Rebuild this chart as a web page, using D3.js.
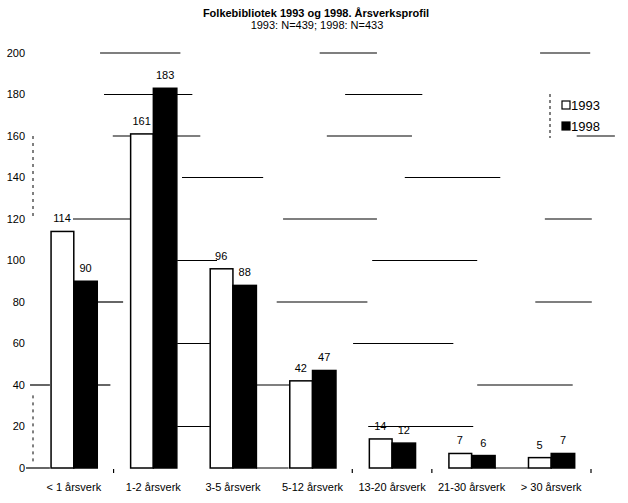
<!DOCTYPE html>
<html>
<head>
<meta charset="utf-8">
<script src="https://cdn.jsdelivr.net/npm/d3@7"></script>
<style>
  body { margin: 0; background: #fff; }
  text { font-family: "Liberation Sans", Arial, sans-serif; fill: #000; }
</style>
</head>
<body>
<div id="chart"></div>
<script>
// Folkebibliotek 1993 og 1998 - årsverksprofil, grouped bars

const categories = ["< 1 årsverk", "1-2 årsverk", "3-5 årsverk", "5-12 årsverk",
                    "13-20 årsverk", "21-30 årsverk", "> 30 årsverk"];
const years = ["1993", "1998"];
const values1993 = [114, 161, 96, 42, 14, 7, 5];
const values1998 = [90, 183, 88, 47, 12, 6, 7];
const yTicks = [0, 20, 40, 60, 80, 100, 120, 140, 160, 180, 200];

// broken scanned gridlines: [level, from, to] with from/to in category units
const gridPieces = [
  [200, 0.83, 1.84], [200, 3.59, 4.31], [200, 6.36, 6.99],
  [180, 0.88, 1.99], [180, 3.91, 4.88],
  [160, 0.99, 2.09], [160, 3.68, 4.75], [160, 6.82, 7.30],
  [140, 1.86, 2.88], [140, 4.66, 5.86],
  [120, 0.49, 1.21], [120, 3.13, 4.31], [120, 6.42, 7.01],
  [100, 1.80, 2.30], [100, 4.25, 5.57],
  [80, 0.79, 1.12], [80, 3.05, 4.19], [80, 6.30, 7.01],
  [60, 1.80, 2.21], [60, 4.01, 5.27],
  [40, -0.05, 0.20], [40, 0.79, 0.96], [40, 2.80, 3.22], [40, 5.57, 6.77],
  [20, 1.80, 2.21], [20, 4.20, 5.52],
  [0, -0.10, 0.20], [0, 2.79, 3.20], [0, 5.79, 6.21]
];
const tickIdx = [1, 4, 5, 7];

const width = 628, height = 503;
const margin = ({top: 53, right: 37, bottom: 34, left: 34});

const data = categories.map((c, i) => ({cat: c, v: [values1993[i], values1998[i]]}));

const svg = d3.select("#chart").append("svg")
    .attr("width", width).attr("height", height);

const x = d3.scaleBand()
    .domain(categories)
    .range([margin.left, width - margin.right])
    .paddingInner(0.41)
    .paddingOuter(0.205);
const xSub = d3.scaleBand().domain(years).range([0, x.bandwidth()]);
const xu = d3.scaleLinear().domain([0, categories.length])
    .range([margin.left, width - margin.right]);
const y = d3.scaleLinear().domain([0, 200])
    .range([height - margin.bottom - 1, margin.top]);

// title
svg.append("text").attr("x", 316).attr("y", 17)
    .style("text-anchor", "middle").style("font-weight", "bold").style("font-size", "11px")
    .text("Folkebibliotek 1993 og 1998. Årsverksprofil");
svg.append("text").attr("x", 317).attr("y", 29)
    .style("text-anchor", "middle").style("font-size", "11px")
    .text("1993: N=439; 1998: N=433");

// gridline pieces
svg.append("g").selectAll("line").data(gridPieces).enter().append("line")
    .attr("x1", d => xu(d[1])).attr("x2", d => xu(d[2]))
    .attr("y1", d => y(d[0])).attr("y2", d => y(d[0]))
    .attr("stroke", "#000").attr("stroke-width", 1.2);

// left axis remains (dotted)
svg.append("g").selectAll("line").data([[160, 120], [35, 3]]).enter().append("line")
    .attr("x1", margin.left - 1).attr("x2", margin.left - 1)
    .attr("y1", d => y(d[0])).attr("y2", d => y(d[1]))
    .attr("stroke", "#000").attr("stroke-dasharray", "3,4");

// y tick labels
svg.append("g").selectAll("text").data(yTicks).enter().append("text")
    .attr("x", 25).attr("y", d => y(d)).attr("dy", "0.35em")
    .style("text-anchor", "end").style("font-size", "11px")
    .text(d => d);

// small ticks under baseline
svg.append("g").selectAll("line").data(tickIdx).enter().append("line")
    .attr("x1", d => xu(d)).attr("x2", d => xu(d))
    .attr("y1", y(0) + 1).attr("y2", y(0) + 5)
    .attr("stroke", "#000").attr("stroke-width", 1.2);

// bars
const groups = svg.append("g").selectAll("g").data(data).enter().append("g")
    .attr("transform", d => `translate(${x(d.cat)},0)`);
groups.selectAll("rect").data(d => d.v.map((v, j) => ({yr: years[j], v: v}))).enter()
    .append("rect")
    .attr("x", d => xSub(d.yr) + (d.yr === "1993" ? 0.75 : 0))
    .attr("y", d => y(d.v))
    .attr("width", d => xSub.bandwidth() - (d.yr === "1993" ? 0.75 : 0))
    .attr("height", d => y(0) - y(d.v))
    .attr("fill", d => d.yr === "1993" ? "#fff" : "#000")
    .attr("stroke", "#000").attr("stroke-width", 1.5);

// value labels
groups.selectAll("text").data(d => d.v.map((v, j) => ({yr: years[j], v: v}))).enter()
    .append("text")
    .attr("x", d => xSub(d.yr) + xSub.bandwidth() / 2)
    .attr("y", d => y(d.v) - 9)
    .style("text-anchor", "middle").style("font-size", "11px")
    .text(d => d.v);

// category labels
svg.append("g").selectAll("text").data(categories).enter().append("text")
    .attr("x", d => x(d) + x.bandwidth() / 2)
    .attr("y", 491)
    .style("text-anchor", "middle").style("font-size", "11px")
    .text(d => d);

// legend
const legend = svg.append("g").attr("transform", "translate(562,98)");
legend.append("line").attr("x1", -12).attr("x2", -12).attr("y1", -4).attr("y2", 40)
    .attr("stroke", "#000").attr("stroke-dasharray", "3,3");
legend.selectAll("rect").data(years).enter().append("rect")
    .attr("x", 0).attr("y", (d, i) => 3 + i * 21)
    .attr("width", 8).attr("height", 8)
    .attr("fill", d => d === "1993" ? "#fff" : "#000")
    .attr("stroke", "#000").attr("stroke-width", 1.2);
legend.selectAll("text").data(years).enter().append("text")
    .attr("x", 9).attr("y", (d, i) => 7 + i * 21).attr("dy", "0.38em")
    .style("font-size", "13px")
    .text(d => d);
</script>
</body>
</html>
